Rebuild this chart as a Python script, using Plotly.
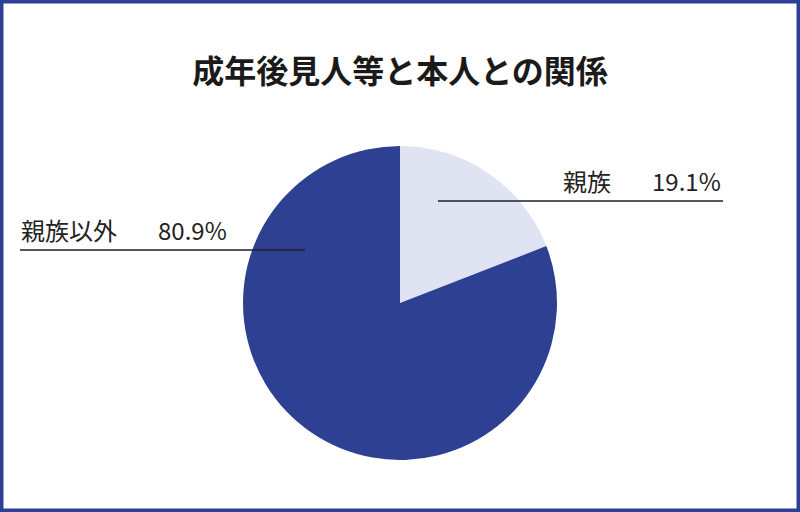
import plotly.graph_objects as go

# データ
labels = ["親族", "親族以外"]
values = [19.1, 80.9]
colors = ["#e0e3f1", "#2e4092"]
title_text = "成年後見人等と本人との関係"

W, H = 800, 512
cx, cy, r = 400, 303, 157

fig = go.Figure()
fig.add_trace(go.Pie(
    labels=labels,
    values=values,
    sort=False,
    direction="clockwise",
    rotation=0,
    marker=dict(colors=colors, line=dict(width=0)),
    textinfo="none",
    hoverinfo="label+percent",
    showlegend=False,
    domain=dict(x=[(cx - r) / W, (cx + r) / W], y=[(H - cy - r) / H, (H - cy + r) / H]),
))

# ラベル (引き出し線付き)
label_pos = [
    dict(x0=438, x1=723, y=201, name_x=561, val_x=723),
    dict(x0=20, x1=305, y=250, name_x=19, val_x=229),
]
for lab, val, p in zip(labels, values, label_pos):
    fig.add_shape(type="line", xref="paper", yref="paper",
                  x0=p["x0"] / W, x1=p["x1"] / W, y0=1 - p["y"] / H, y1=1 - p["y"] / H,
                  line=dict(color="#1f1f2e", width=1.3))
    fig.add_annotation(x=p["name_x"] / W, y=1 - (p["y"] - 1) / H, xref="paper", yref="paper",
                       text=lab, showarrow=False, xanchor="left", yanchor="bottom",
                       font=dict(size=24, color="#222222", family="Noto Sans CJK JP"))
    fig.add_annotation(x=p["val_x"] / W, y=1 - (p["y"] - 1) / H, xref="paper", yref="paper",
                       text=f"{val:.1f}%", showarrow=False, xanchor="right", yanchor="bottom",
                       font=dict(size=24, color="#222222", family="Noto Sans CJK JP"))

# 枠線
fig.add_shape(type="rect", xref="paper", yref="paper", x0=0, x1=1, y0=0, y1=1,
              line=dict(color="#2e4092", width=7))

fig.update_layout(
    width=W, height=H,
    margin=dict(l=0, r=0, t=0, b=0),
    paper_bgcolor="white",
    plot_bgcolor="white",
    title=dict(text="<b>" + title_text + "</b>", x=0.5, xanchor="center",
               y=1 - 72 / H, yanchor="middle",
               font=dict(size=32, color="#1a1a1a", family="Noto Sans CJK JP")),
)

fig.write_html("out.html", config={"displayModeBar": False},
               post_script="document.body.style.margin='0';document.body.style.overflow='hidden';")
